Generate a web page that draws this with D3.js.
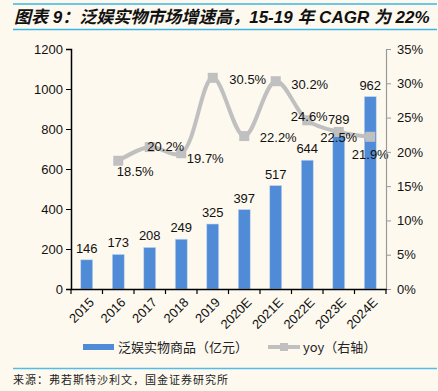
<!DOCTYPE html>
<html>
<head>
<meta charset="utf-8">
<script src="https://cdn.jsdelivr.net/npm/d3@7"></script>
<style>
  body { margin: 0; background: #fdf9ef; }
  svg { display: block; font-family: "Liberation Sans", Arial, sans-serif; }
</style>
</head>
<body>
<div id="chart"></div>
<script>
// data
const years = ["2015", "2016", "2017", "2018", "2019", "2020E", "2021E", "2022E", "2023E", "2024E"];
const sales = [146, 173, 208, 249, 325, 397, 517, 644, 789, 962];
const yoy = [null, 18.5, 20.2, 19.7, 30.5, 22.2, 30.2, 24.6, 22.5, 21.9];
const yoyMarkers = [null, 18.7, 20.7, 19.8, 30.8, 22.3, 30.3, 24.6, 22.9, 22.2];
const leftTicks = [0, 200, 400, 600, 800, 1000, 1200];
const rightTicks = [0, 5, 10, 15, 20, 25, 30, 35];

// label offsets for yoy labels (dx, dy from marker)
const yoyLabelPos = [null, [17, 10], [16, -1], [24, 5], [35, 1], [34, 1], [34, 3], [2, -4], [0, 5], [0, 17]];

const W = 438, H = 391;
const margin = {top: 49, right: 52, bottom: 102, left: 71};
const width = W - margin.left - margin.right,
      height = H - margin.top - margin.bottom;

const svg = d3.select("#chart").append("svg")
    .attr("width", W).attr("height", H);

svg.append("rect").attr("width", W).attr("height", H).attr("fill", "#fdf9ef");

// title and rules
svg.append("line").attr("x1", 13).attr("x2", 437).attr("y1", 4).attr("y2", 4)
    .attr("stroke", "#3cb4e6").attr("stroke-width", 1.5);
svg.append("line").attr("x1", 13).attr("x2", 437).attr("y1", 29.5).attr("y2", 29.5)
    .attr("stroke", "#3cb4e6").attr("stroke-width", 1.5);
svg.append("text").attr("x", 14).attr("y", 23)
    .style("font-family", "'Liberation Sans', 'Noto Sans CJK SC', sans-serif")
    .style("font-size", "17px").style("font-weight", "bold").style("font-style", "italic")
    .attr("fill", "#111")
    .text("图表 9：泛娱实物市场增速高，15-19 年 CAGR 为 22%");

const g = svg.append("g").attr("transform", `translate(${margin.left},${margin.top})`);

const x = d3.scaleBand().domain(years).range([0, width]).paddingInner(0.62).paddingOuter(0.31);
const xb = d3.scaleBand().domain(years).range([0, width]);
const y = d3.scaleLinear().domain([0, 1200]).range([height, 0]);
const y2 = d3.scaleLinear().domain([0, 35]).range([height, 0]);

// bars
g.selectAll(".bar").data(sales).enter().append("rect")
    .attr("x", (d, i) => x(years[i]))
    .attr("y", d => y(d))
    .attr("width", x.bandwidth())
    .attr("height", d => height - y(d))
    .attr("fill", "#4f8bd6")
    .attr("stroke", "#c6d9f0").attr("stroke-width", 0.6);

g.selectAll(".blab").data(sales).enter().append("text")
    .attr("x", (d, i) => x(years[i]) + x.bandwidth() / 2)
    .attr("y", d => y(d) - 7)
    .attr("text-anchor", "middle")
    .style("font-size", "13px").attr("fill", "#111")
    .text(d => d);

// yoy line
const pts = yoyMarkers.map((d, i) => [d, i]).filter(p => p[0] !== null);
const line = d3.line()
    .x(p => xb(years[p[1]]) + xb.bandwidth() / 2)
    .y(p => y2(p[0]))
    .curve(d3.curveCatmullRom.alpha(0.5));
g.append("path").datum(pts).attr("d", line)
    .attr("fill", "none").attr("stroke", "#c0c0c0").attr("stroke-width", 4);

g.selectAll(".mk").data(pts).enter().append("rect")
    .attr("x", p => xb(years[p[1]]) + xb.bandwidth() / 2 - 5)
    .attr("y", p => y2(p[0]) - 5)
    .attr("width", 10).attr("height", 10)
    .attr("fill", "#c0c0c0");

g.selectAll(".ylab").data(pts).enter().append("text")
    .attr("x", p => xb(years[p[1]]) + xb.bandwidth() / 2 + yoyLabelPos[p[1]][0])
    .attr("y", p => y2(p[0]) + yoyLabelPos[p[1]][1] + 5)
    .attr("text-anchor", "middle")
    .style("font-size", "13px").attr("fill", "#111")
    .text(p => yoy[p[1]].toFixed(1) + "%");

// axes
const leftAxis = g.append("g")
    .call(d3.axisLeft(y).tickValues(leftTicks).tickSize(5).tickPadding(3).tickFormat(d3.format("d")));
leftAxis.select(".domain").attr("stroke", "#000").attr("stroke-width", 1.5);
leftAxis.selectAll("text").style("font-size", "13px").attr("fill", "#111");

const rightAxis = g.append("g").attr("transform", `translate(${width},0)`)
    .call(d3.axisRight(y2).tickValues(rightTicks).tickSize(5).tickPadding(6).tickFormat(d => d + "%"));
rightAxis.select(".domain").attr("stroke", "#9a9a9a").attr("stroke-width", 1.2);
rightAxis.selectAll(".tick line").attr("stroke", "#9a9a9a");
rightAxis.selectAll("text").style("font-size", "13px").attr("fill", "#111");

const bottomAxis = g.append("g").attr("transform", `translate(0,${height})`)
    .call(d3.axisBottom(xb).tickSize(0).tickSizeOuter(0));
bottomAxis.select(".domain").attr("stroke", "#000").attr("stroke-width", 1.5);
bottomAxis.selectAll(".tick line").remove();
bottomAxis.selectAll(".tick text")
    .style("font-size", "13px").attr("fill", "#111")
    .attr("text-anchor", "end")
    .attr("transform", "translate(5,11) rotate(-45)")
    .attr("dy", "0.35em").attr("y", 0).attr("x", 0);
// ticks at category boundaries
bottomAxis.selectAll(".sep").data(d3.range(years.length + 1)).enter().append("line")
    .attr("x1", i => i * xb.step()).attr("x2", i => i * xb.step())
    .attr("y1", 0).attr("y2", 5).attr("stroke", "#000").attr("stroke-width", 1.2);

// legend
const lg = svg.append("g").style("font-family", "'Noto Sans CJK SC', sans-serif");
lg.append("rect").attr("x", 83).attr("y", 344).attr("width", 31).attr("height", 6).attr("fill", "#4f8bd6");
lg.append("text").attr("x", 118).attr("y", 352).style("font-size", "13px").attr("fill", "#222")
    .text("泛娱实物商品（亿元）");
lg.append("line").attr("x1", 268).attr("x2", 300).attr("y1", 347).attr("y2", 347)
    .attr("stroke", "#c0c0c0").attr("stroke-width", 4);
lg.append("rect").attr("x", 280).attr("y", 343).attr("width", 8).attr("height", 8).attr("fill", "#c0c0c0");
lg.append("text").attr("x", 303).attr("y", 352).style("font-size", "13px").attr("fill", "#222")
    .text("yoy（右轴）");

// source
svg.append("line").attr("x1", 13).attr("x2", 437).attr("y1", 368.5).attr("y2", 368.5)
    .attr("stroke", "#55bbe6").attr("stroke-width", 1.5);
svg.append("text").attr("x", 13).attr("y", 384)
    .style("font-family", "'Noto Sans CJK SC', sans-serif")
    .style("font-size", "11px").style("letter-spacing", "1px").attr("fill", "#222")
    .text("来源：弗若斯特沙利文，国金证券研究所");
</script>
</body>
</html>
